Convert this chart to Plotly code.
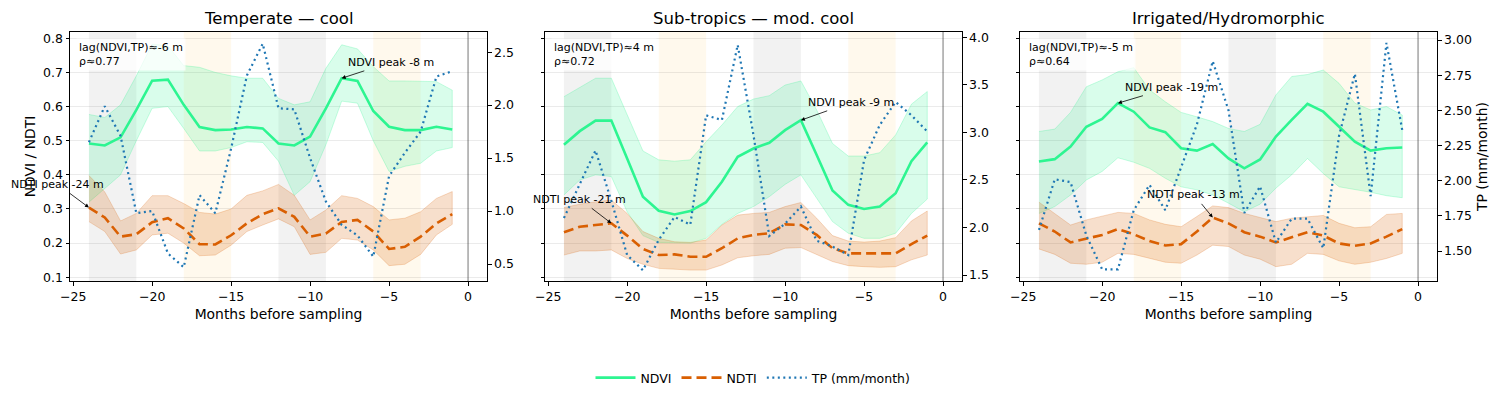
import plotly.graph_objects as go

# ---------------- data ----------------
months = list(range(-24, 0))

titles = ["Temperate — cool", "Sub-tropics — mod. cool", "Irrigated/Hydromorphic"]
lag_texts = ["lag(NDVI,TP)≈-6 m<br>ρ≈0.77", "lag(NDVI,TP)≈4 m<br>ρ≈0.72", "lag(NDVI,TP)≈-5 m<br>ρ≈0.64"]

# Panel 1 : Temperate — cool
ndvi1 = [0.492, 0.486, 0.510, 0.590, 0.676, 0.679, 0.605, 0.540, 0.531, 0.533, 0.540, 0.536,
         0.492, 0.486, 0.512, 0.595, 0.683, 0.675, 0.587, 0.541, 0.531, 0.531, 0.541, 0.533]
ndvi1_hi = [0.577, 0.568, 0.605, 0.690, 0.783, 0.778, 0.720, 0.715, 0.700, 0.690, 0.683, 0.683,
            0.624, 0.605, 0.614, 0.712, 0.781, 0.769, 0.717, 0.675, 0.675, 0.675, 0.673, 0.648]
ndvi1_lo = [0.320, 0.360, 0.400, 0.500, 0.595, 0.600, 0.536, 0.470, 0.470, 0.480, 0.497, 0.495,
            0.440, 0.340, 0.380, 0.488, 0.616, 0.610, 0.500, 0.410, 0.425, 0.434, 0.470, 0.480]
ndti1 = [0.304, 0.275, 0.219, 0.226, 0.261, 0.273, 0.243, 0.197, 0.196, 0.223, 0.258, 0.285,
         0.302, 0.277, 0.219, 0.228, 0.262, 0.268, 0.234, 0.183, 0.189, 0.219, 0.258, 0.285]
ndti1_hi = [0.398, 0.350, 0.265, 0.287, 0.339, 0.339, 0.316, 0.290, 0.285, 0.300, 0.340, 0.353,
            0.372, 0.340, 0.268, 0.297, 0.339, 0.331, 0.307, 0.268, 0.273, 0.292, 0.331, 0.351]
ndti1_lo = [0.263, 0.234, 0.168, 0.180, 0.224, 0.229, 0.200, 0.163, 0.165, 0.194, 0.234, 0.253,
            0.271, 0.248, 0.167, 0.173, 0.214, 0.209, 0.180, 0.134, 0.138, 0.167, 0.224, 0.255]
tp1 = [1.65, 1.99, 1.71, 0.98, 1.00, 0.60, 0.47, 1.15, 0.98, 1.59, 2.28, 2.58,
       1.97, 1.96, 1.50, 1.09, 0.87, 0.77, 0.57, 1.33, 1.55, 1.75, 2.27, 2.32]

# Panel 2 : Sub-tropics — mod. cool
ndvi2 = [0.488, 0.528, 0.559, 0.559, 0.448, 0.336, 0.295, 0.284, 0.294, 0.320, 0.380, 0.453,
         0.477, 0.494, 0.531, 0.560, 0.458, 0.354, 0.312, 0.300, 0.307, 0.346, 0.440, 0.495]
ndvi2_hi = [0.629, 0.655, 0.683, 0.683, 0.575, 0.470, 0.444, 0.440, 0.444, 0.497, 0.546, 0.600,
            0.622, 0.632, 0.663, 0.675, 0.590, 0.492, 0.455, 0.455, 0.465, 0.517, 0.607, 0.644]
ndvi2_lo = [0.341, 0.385, 0.400, 0.395, 0.292, 0.222, 0.202, 0.200, 0.200, 0.214, 0.255, 0.287,
            0.307, 0.336, 0.372, 0.400, 0.331, 0.263, 0.229, 0.214, 0.214, 0.229, 0.287, 0.329]
ndti2 = [0.232, 0.248, 0.253, 0.258, 0.222, 0.183, 0.165, 0.167, 0.160, 0.160, 0.185, 0.214,
         0.224, 0.229, 0.255, 0.253, 0.224, 0.185, 0.170, 0.170, 0.168, 0.170, 0.197, 0.222]
ndti2_hi = [0.304, 0.314, 0.321, 0.326, 0.287, 0.234, 0.214, 0.204, 0.202, 0.209, 0.253, 0.282,
            0.287, 0.290, 0.307, 0.319, 0.273, 0.222, 0.206, 0.203, 0.206, 0.216, 0.265, 0.294]
ndti2_lo = [0.165, 0.177, 0.177, 0.180, 0.155, 0.138, 0.126, 0.124, 0.121, 0.121, 0.136, 0.157,
            0.163, 0.167, 0.185, 0.187, 0.167, 0.146, 0.134, 0.131, 0.129, 0.131, 0.151, 0.165]
tp2 = [2.10, 2.46, 2.81, 2.28, 1.71, 1.55, 1.87, 2.11, 2.03, 3.18, 3.13, 3.92,
       2.97, 1.91, 2.04, 2.22, 1.86, 1.80, 1.71, 2.71, 3.08, 3.32, 3.18, 3.01]

# Panel 3 : Irrigated/Hydromorphic
ndvi3 = [0.439, 0.446, 0.483, 0.541, 0.564, 0.610, 0.585, 0.539, 0.525, 0.478, 0.471, 0.490,
         0.448, 0.419, 0.445, 0.512, 0.561, 0.608, 0.585, 0.541, 0.497, 0.471, 0.478, 0.480]
ndvi3_hi = [0.527, 0.534, 0.583, 0.658, 0.678, 0.702, 0.714, 0.649, 0.614, 0.583, 0.570, 0.556,
            0.536, 0.527, 0.548, 0.634, 0.688, 0.694, 0.707, 0.668, 0.610, 0.590, 0.600, 0.575]
ndvi3_lo = [0.287, 0.307, 0.341, 0.385, 0.410, 0.450, 0.437, 0.419, 0.390, 0.365, 0.356, 0.341,
            0.317, 0.292, 0.314, 0.361, 0.400, 0.448, 0.404, 0.365, 0.356, 0.349, 0.339, 0.333]
ndti3 = [0.258, 0.234, 0.202, 0.214, 0.224, 0.241, 0.226, 0.206, 0.193, 0.197, 0.234, 0.275,
         0.258, 0.232, 0.219, 0.202, 0.216, 0.232, 0.222, 0.199, 0.192, 0.199, 0.219, 0.241]
ndti3_hi = [0.320, 0.287, 0.253, 0.268, 0.278, 0.290, 0.287, 0.268, 0.255, 0.248, 0.278, 0.309,
            0.304, 0.287, 0.275, 0.263, 0.273, 0.278, 0.281, 0.258, 0.245, 0.248, 0.284, 0.287]
ndti3_lo = [0.183, 0.167, 0.141, 0.138, 0.144, 0.170, 0.167, 0.155, 0.144, 0.141, 0.165, 0.194,
            0.190, 0.165, 0.153, 0.131, 0.138, 0.170, 0.167, 0.148, 0.138, 0.144, 0.155, 0.170]
tp3 = [1.65, 2.01, 1.99, 1.61, 1.37, 1.37, 1.79, 1.97, 1.79, 2.09, 2.40, 2.85,
       2.50, 1.77, 1.96, 1.56, 1.73, 1.73, 1.52, 2.32, 2.76, 1.89, 2.98, 2.36]

# season shading spans (months)
gray_spans = [(-24, -21), (-12, -9)]
warm_spans = [(-18, -15), (-6, -3)]

# peak annotations: (label, point x, point y, text x, text y)
ndvi_peaks = [("NDVI peak -8 m", -8, 0.683, -4.9, 0.730),
              ("NDVI peak -9 m", -9, 0.560, -5.8, 0.613),
              ("NDVI peak -19 m", -19, 0.610, -15.6, 0.657)]
ndti_peaks = [("NDTI peak -24 m", -24, 0.304, -26.0, 0.373),
              ("NDTI peak -21 m", -21, 0.258, -23.0, 0.329),
              ("NDTI peak -13 m", -13, 0.275, -14.2, 0.343)]

tp_ranges = [[0.34, 2.69], [1.437, 4.056], [1.287, 3.057]]
tp_ticks = [[0.5, 1.0, 1.5, 2.0, 2.5], [1.5, 2.0, 2.5, 3.0, 3.5, 4.0],
            [1.5, 1.75, 2.0, 2.25, 2.5, 2.75, 3.0]]
tp_fmt = [".1f", ".1f", ".2f"]

# ---------------- figure ----------------
NDVI_C = "rgb(45,245,145)"
NDVI_F = "rgba(45,245,145,0.18)"
NDTI_C = "rgb(217,95,2)"
NDTI_F = "rgba(217,95,2,0.2)"
TP_C = "#1f77b4"
FONT = "DejaVu Sans"

panels = [
    dict(ndvi=ndvi1, hi=ndvi1_hi, lo=ndvi1_lo, ndti=ndti1, thi=ndti1_hi, tlo=ndti1_lo, tp=tp1),
    dict(ndvi=ndvi2, hi=ndvi2_hi, lo=ndvi2_lo, ndti=ndti2, thi=ndti2_hi, tlo=ndti2_lo, tp=tp2),
    dict(ndvi=ndvi3, hi=ndvi3_hi, lo=ndvi3_lo, ndti=ndti3, thi=ndti3_hi, tlo=ndti3_lo, tp=tp3),
]

# page is 1507x398; the html body has an 8px margin, so the figure is placed inside it
PAGE_W, PAGE_H = 1507, 398
OFF = 8
W, H = PAGE_W - 2 * OFF, PAGE_H - 2 * OFF


def fx(px):
    return (px - OFF) / W


def fy(py):
    return 1 - (py - OFF) / H


xdoms = [[fx(70), fx(487)], [fx(545), fx(962)], [fx(1020), fx(1437)]]
ydom = [fy(281), fy(32)]

fig = go.Figure()
layout = dict(
    width=W, height=H,
    margin=dict(l=0, r=0, t=0, b=0, autoexpand=False),
    paper_bgcolor="white", plot_bgcolor="white",
    font=dict(family=FONT, size=12.5, color="black"),
    showlegend=True,
    legend=dict(orientation="h", x=0.5, xanchor="center", y=fy(378), yanchor="middle",
                font=dict(size=12.5), itemwidth=40, tracegroupgap=0, bgcolor="rgba(0,0,0,0)"),
)
shapes = []
annotations = []

for i, p in enumerate(panels):
    n = i + 1
    xa = "x" if n == 1 else f"x{n}"
    yl_num = 2 * i + 1
    yr_num = 2 * i + 2
    yl = "y" if yl_num == 1 else f"y{yl_num}"
    yr = f"y{yr_num}"
    first = i == 0

    # NDVI band + line
    fig.add_trace(go.Scatter(x=months + months[::-1], y=p["hi"] + p["lo"][::-1], fill="toself",
                             fillcolor=NDVI_F, line=dict(color="rgba(45,245,145,0.25)", width=1),
                             mode="lines", showlegend=False, hoverinfo="skip", xaxis=xa, yaxis=yl))
    fig.add_trace(go.Scatter(x=months, y=p["ndvi"], mode="lines", name="NDVI",
                             line=dict(color=NDVI_C, width=2.6), legendgroup="ndvi",
                             showlegend=first, xaxis=xa, yaxis=yl))
    # NDTI band + line
    fig.add_trace(go.Scatter(x=months + months[::-1], y=p["thi"] + p["tlo"][::-1], fill="toself",
                             fillcolor=NDTI_F, line=dict(color="rgba(217,95,2,0.22)", width=1),
                             mode="lines", showlegend=False, hoverinfo="skip", xaxis=xa, yaxis=yl))
    fig.add_trace(go.Scatter(x=months, y=p["ndti"], mode="lines", name="NDTI",
                             line=dict(color=NDTI_C, width=2.6, dash="10px,5px"), legendgroup="ndti",
                             showlegend=first, xaxis=xa, yaxis=yl))
    # TP
    fig.add_trace(go.Scatter(x=months, y=p["tp"], mode="lines", name="TP (mm/month)",
                             line=dict(color=TP_C, width=2.2, dash="2px,3.5px"), legendgroup="tp",
                             showlegend=first, xaxis=xa, yaxis=yr))

    xkey = "xaxis" if n == 1 else f"xaxis{n}"
    ylkey = "yaxis" if yl_num == 1 else f"yaxis{yl_num}"
    yrkey = f"yaxis{yr_num}"

    layout[xkey] = dict(domain=xdoms[i], anchor=yl, range=[-25.2, 1.2], tickvals=[-25, -20, -15, -10, -5, 0],
                        ticks="outside", ticklen=3.5, tickwidth=0.8, tickcolor="black",
                        showline=True, linecolor="black", linewidth=1, mirror=True,
                        showgrid=False, zeroline=False, tickfont=dict(size=12.5), automargin=False,
                        title=dict(text="Months before sampling", font=dict(size=13.9), standoff=6))
    layout[ylkey] = dict(domain=ydom, anchor=xa, range=[0.089, 0.8185], tick0=0.1, dtick=0.1,
                         tickformat=".1f", ticks="outside", ticklen=3.5, tickwidth=0.8, tickcolor="black",
                         showline=True, linecolor="black", linewidth=1, showgrid=True,
                         gridcolor="rgba(0,0,0,0.08)", gridwidth=0.8, zeroline=False, automargin=False,
                         showticklabels=first, tickfont=dict(size=12.5))
    if first:
        layout[ylkey]["title"] = dict(text="NDVI / NDTI", font=dict(size=13.9), standoff=4)
    layout[yrkey] = dict(overlaying=yl, side="right", anchor=xa, range=tp_ranges[i], tickvals=tp_ticks[i],
                         tickformat=tp_fmt[i], ticks="outside", ticklen=3.5, tickwidth=0.8, tickcolor="black",
                         showline=True, linecolor="black", linewidth=1, showgrid=False, zeroline=False,
                         automargin=False, tickfont=dict(size=12.5))
    if n == 3:
        layout[yrkey]["title"] = dict(text="TP (mm/month)", font=dict(size=13.9), standoff=6)

    # shading
    for a, b in gray_spans:
        shapes.append(dict(type="rect", xref=xa, yref=f"{yl} domain", x0=a, x1=b, y0=0, y1=1,
                           fillcolor="rgba(128,128,128,0.1)", line=dict(width=0), layer="below"))
    for a, b in warm_spans:
        shapes.append(dict(type="rect", xref=xa, yref=f"{yl} domain", x0=a, x1=b, y0=0, y1=1,
                           fillcolor="rgba(255,165,0,0.07)", line=dict(width=0), layer="below"))
    shapes.append(dict(type="line", xref=xa, yref=f"{yl} domain", x0=0, x1=0, y0=0, y1=1,
                       line=dict(color="rgba(0,0,0,0.45)", width=1.2), layer="above"))

    # title
    annotations.append(dict(text=titles[i], xref=f"{xa} domain", yref="paper", x=0.5,
                            y=fy(19), xanchor="center", yanchor="middle", showarrow=False,
                            font=dict(size=16.5)))
    # lag box
    annotations.append(dict(text=lag_texts[i], xref=f"{xa} domain", yref=f"{yl} domain", x=0.015, y=0.975,
                            xanchor="left", yanchor="top", align="left", showarrow=False,
                            bgcolor="rgba(255,255,255,0.75)", borderpad=2, font=dict(size=11)))
    # peaks
    for lab, px, py, tx, ty in (ndvi_peaks[i], ndti_peaks[i]):
        annotations.append(dict(text=lab, x=px, y=py, xref=xa, yref=yl, ax=tx, ay=ty,
                                axref=xa, ayref=yl, showarrow=True, arrowhead=2, arrowsize=1,
                                arrowwidth=0.8, arrowcolor="black", standoff=0, startstandoff=2,
                                font=dict(size=11)))

layout["shapes"] = shapes
layout["annotations"] = annotations
fig.update_layout(**layout)
fig.write_html("out.html")
